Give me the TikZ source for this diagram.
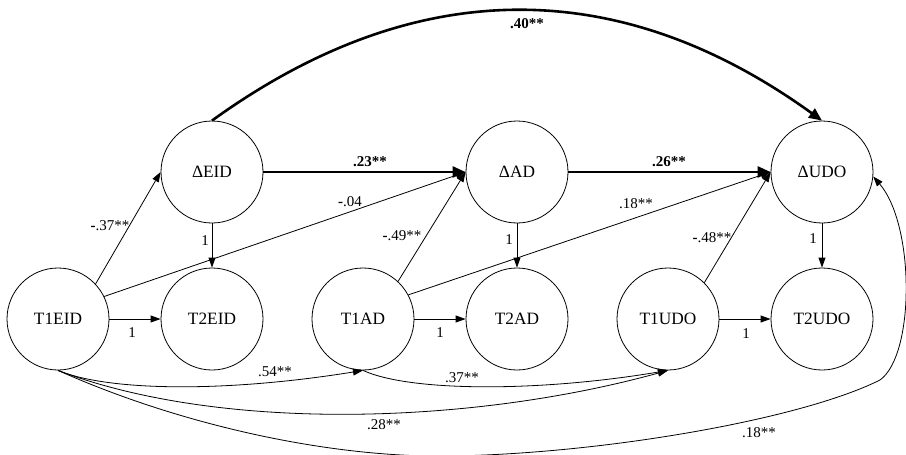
\documentclass[tikz,border=0pt]{standalone}
\usepackage{fontspec}
\setmainfont{Liberation Serif}
\usetikzlibrary{arrows.meta}
\begin{document}
\begin{tikzpicture}[x=1pt,y=-1pt,
  var/.style={draw, circle, minimum size=102pt, inner sep=0pt, line width=0.8pt, font=\fontsize{17.3}{18}\selectfont},
  thinarr/.style={line width=0.8pt, -{Triangle[length=10pt,width=7pt]}},
  thickarr/.style={line width=2.6pt, -{Triangle[length=13pt,width=11pt]}},
  lab/.style={font=\fontsize{15}{16}\selectfont, inner sep=0pt},
  blab/.style={font=\fontsize{15}{16}\selectfont\bfseries, inner sep=0pt}
]
\useasboundingbox (0,0) rectangle (906,455);

% variables
\node[var] (T1EID) at (58,319) {T1EID};
\node[var] (dEID)  at (212,172) {ΔEID};
\node[var] (T2EID) at (212,319) {T2EID};
\node[var] (T1AD)  at (363,319) {T1AD};
\node[var] (dAD)   at (517,172) {ΔAD};
\node[var] (T2AD)  at (517,319) {T2AD};
\node[var] (T1UDO) at (668,319) {T1UDO};
\node[var] (dUDO)  at (822,172) {ΔUDO};
\node[var] (T2UDO) at (822,319) {T2UDO};

% straight paths
\draw[thinarr] (T1EID.43) -- (dEID.west);
\draw[thinarr] (T1EID.east) -- (T2EID.west);
\draw[thinarr] (T1EID.26) -- (dAD.west);
\draw[thinarr] (dEID.south) -- (T2EID.north);
\draw[thickarr] (dEID.east) -- (dAD.west);
\draw[thinarr] (T1AD.47) -- (dAD.west);
\draw[thinarr] (T1AD.east) -- (T2AD.west);
\draw[thinarr] (T1AD.28) -- (dUDO.west);
\draw[thinarr] (dAD.south) -- (T2AD.north);
\draw[thickarr] (dAD.east) -- (dUDO.west);
\draw[thinarr] (T1UDO.45) -- (dUDO.west);
\draw[thinarr] (T1UDO.east) -- (T2UDO.west);
\draw[thinarr] (dUDO.south) -- (T2UDO.north);

% curved paths
\draw[thickarr] (dEID.north) .. controls (415,-26) and (619,-26) .. (dUDO.north);
\draw[thinarr] (T1EID.south) .. controls (110,392) and (230,392) .. (T1AD.south);
\draw[thinarr] (T1AD.south) .. controls (410,392) and (540,392) .. (T1UDO.south);
\draw[thinarr] (T1EID.south) .. controls (220,432) and (470,425) .. (T1UDO.south);
\draw[thinarr] (T1EID.south) .. controls (180,425) and (330,458) .. (450,456)
  .. controls (600,454) and (800,420) .. (880,380)
  .. controls (915,355) and (915,225) .. (dUDO.-5);

% labels
\node[lab] (l1) at (110,226) {{\bfseries -}.37**};
\node[lab] (l2) at (132,333) {1};
\node[lab] (l3) at (350,202) {{\bfseries -}.04};
\node[lab] (l4) at (205,241) {1};
\node[blab] (l5) at (370,162) {.23**};
\node[lab] (l6) at (402,236) {{\bfseries -}.49**};
\node[lab] (l7) at (440,333) {1};
\node[lab] (l8) at (636,204) {.18**};
\node[lab] (l9) at (509,240) {1};
\node[blab] (l10) at (669,162) {.26**};
\node[lab] (l11) at (712,238) {{\bfseries -}.48**};
\node[lab] (l12) at (746,334) {1};
\node[lab] (l13) at (813,239) {1};
\node[blab] (l14) at (527,24) {.40**};
\node[lab] (l15) at (275,372) {.54**};
\node[lab] (l16) at (462,378) {.37**};
\node[lab] (l17) at (384,425) {.28**};
\node[lab] (l18) at (759,433) {.18**};
\end{tikzpicture}
\end{document}
